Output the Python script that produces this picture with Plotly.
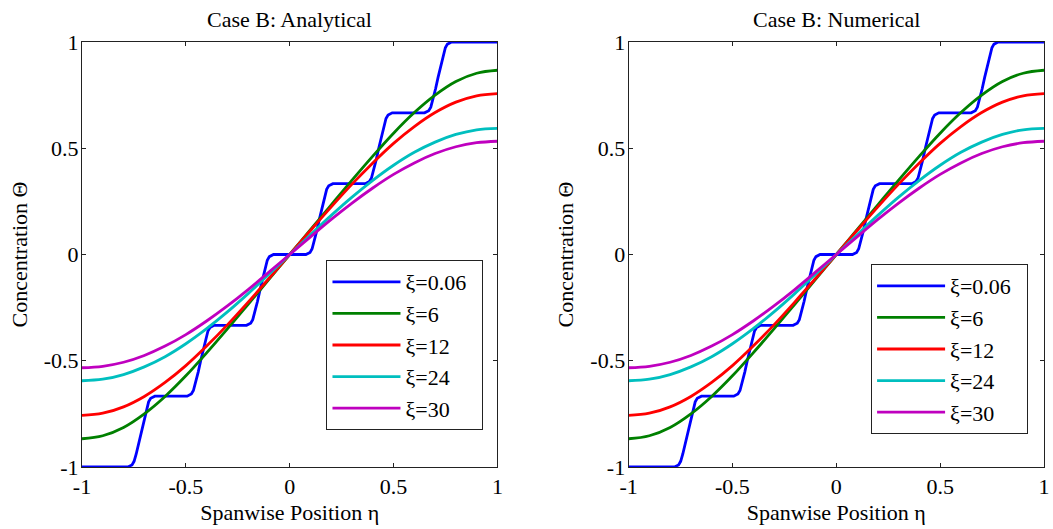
import plotly.graph_objects as go

# ---------------- data ----------------
eta = [-1.0, -0.9, -0.8, -0.7, -0.6, -0.5, -0.4, -0.3, -0.2, -0.1, 0.0,
       0.1, 0.2, 0.3, 0.4, 0.5, 0.6, 0.7, 0.8, 0.9, 1.0]

theta_xi6 = [-0.867, -0.853, -0.814, -0.750, -0.668, -0.571, -0.463, -0.350, -0.234, -0.117, 0.0,
             0.117, 0.234, 0.350, 0.463, 0.571, 0.668, 0.750, 0.814, 0.853, 0.867]
theta_xi12 = [-0.757, -0.747, -0.717, -0.668, -0.602, -0.523, -0.431, -0.331, -0.224, -0.113, 0.0,
              0.113, 0.224, 0.331, 0.431, 0.523, 0.602, 0.668, 0.717, 0.747, 0.757]
theta_xi24 = [-0.594, -0.587, -0.565, -0.529, -0.481, -0.420, -0.349, -0.270, -0.184, -0.093, 0.0,
              0.093, 0.184, 0.270, 0.349, 0.420, 0.481, 0.529, 0.565, 0.587, 0.594]
theta_xi30 = [-0.533, -0.526, -0.507, -0.475, -0.431, -0.377, -0.313, -0.242, -0.165, -0.083, 0.0,
              0.083, 0.165, 0.242, 0.313, 0.377, 0.431, 0.475, 0.507, 0.526, 0.533]

# staircase curve (xi = 0.06)
eta_xi006 = [-1.0,
             -0.7793, -0.7593, -0.7493, -0.7393, -0.7263, -0.7143, -0.7023, -0.6893, -0.6793, -0.6693, -0.6493,
             -0.4936, -0.4736, -0.4636, -0.4536, -0.4406, -0.4286, -0.4166, -0.4036, -0.3936, -0.3836, -0.3636,
             -0.2079, -0.1879, -0.1779, -0.1679, -0.1549, -0.1429, -0.1309, -0.1179, -0.1079, -0.0979, -0.0779,
             0.0779, 0.0979, 0.1079, 0.1179, 0.1309, 0.1429, 0.1549, 0.1679, 0.1779, 0.1879, 0.2079,
             0.3636, 0.3836, 0.3936, 0.4036, 0.4166, 0.4286, 0.4406, 0.4536, 0.4636, 0.4736, 0.4936,
             0.6493, 0.6693, 0.6793, 0.6893, 0.7023, 0.7143, 0.7263, 0.7393, 0.7493, 0.7593, 0.7793,
             1.0]
theta_xi006 = [-1.0,
               -1.0, -0.99, -0.9733, -0.94, -0.8867, -0.8333, -0.78, -0.7267, -0.6933, -0.6767, -0.6667,
               -0.6667, -0.6567, -0.64, -0.6067, -0.5533, -0.5, -0.4467, -0.3933, -0.36, -0.3433, -0.3333,
               -0.3333, -0.3233, -0.3067, -0.2733, -0.22, -0.1667, -0.1133, -0.06, -0.0267, -0.01, 0.0,
               0.0, 0.01, 0.0267, 0.06, 0.1133, 0.1667, 0.22, 0.2733, 0.3067, 0.3233, 0.3333,
               0.3333, 0.3433, 0.36, 0.3933, 0.4467, 0.5, 0.5533, 0.6067, 0.64, 0.6567, 0.6667,
               0.6667, 0.6767, 0.6933, 0.7267, 0.78, 0.8333, 0.8867, 0.94, 0.9733, 0.99, 1.0,
               1.0]

series_names = ["ξ=0.06", "ξ=6", "ξ=12", "ξ=24", "ξ=30"]
series_colors = ["#0000FF", "#008000", "#FF0000", "#00BFBF", "#BF00BF"]
panel_titles = ["Case B: Analytical", "Case B: Numerical"]
tick_vals = [-1, -0.5, 0, 0.5, 1]
tick_text = ["-1", "-0.5", "0", "0.5", "1"]
x_label = "Spanwise Position η"
y_label = "Concentration Θ"

# ---------------- figure ----------------
FONT = "Liberation Serif, Times New Roman, serif"
W, H = 1053, 529
ML, MR, MT, MB = 82, 3, 42, 62
pw = W - ML - MR
ph = H - MT - MB
dom1 = [0.0, 418 / pw]
dom2 = [1 - 418 / pw, 1.0]
PAD = "\u00a0\u00a0"  # right padding inside the legend box

fig = go.Figure()

curves = [(eta_xi006, theta_xi006, "linear"),
          (eta, theta_xi6, "spline"),
          (eta, theta_xi12, "spline"),
          (eta, theta_xi24, "spline"),
          (eta, theta_xi30, "spline")]

for p in range(2):
    xa = "x" if p == 0 else "x2"
    ya = "y" if p == 0 else "y2"
    lg = "legend" if p == 0 else "legend2"
    for (xs, ys, shape), name, col in zip(curves, series_names, series_colors):
        fig.add_trace(go.Scatter(
            x=xs, y=ys, mode="lines", name=name + PAD,
            line=dict(color=col, width=2.8, shape=shape),
            xaxis=xa, yaxis=ya, legend=lg, showlegend=True))

axis_common = dict(range=[-1, 1], tickvals=tick_vals, ticktext=tick_text,
                   showgrid=False, zeroline=False, showline=True, mirror="ticks",
                   linecolor="#222222", linewidth=1, ticks="inside", ticklen=4,
                   tickcolor="#222222", tickwidth=1,
                   tickfont=dict(family=FONT, size=22, color="black"))

xcommon = dict(axis_common,
               title=dict(text=x_label, font=dict(family=FONT, size=22), standoff=6))
ycommon = dict(axis_common, ticklabelstandoff=-2,
               title=dict(text=y_label, font=dict(family=FONT, size=22), standoff=10))

leg_common = dict(xanchor="left", yanchor="top", bgcolor="white",
                  bordercolor="#222222", borderwidth=1,
                  font=dict(family=FONT, size=22, color="black"),
                  itemwidth=68, traceorder="normal")

fig.update_layout(
    width=W, height=H,
    margin=dict(l=ML, r=MR, t=MT, b=MB),
    paper_bgcolor="white", plot_bgcolor="white",
    font=dict(family=FONT, size=22, color="black"),
    xaxis=dict(domain=dom1, anchor="y", **xcommon),
    yaxis=dict(domain=[0, 1], anchor="x", **ycommon),
    xaxis2=dict(domain=dom2, anchor="y2", **xcommon),
    yaxis2=dict(domain=[0, 1], anchor="x2", **ycommon),
    legend=dict(x=(328 - ML) / pw, y=(MT + ph - 260) / ph, **leg_common),
    legend2=dict(x=(876 - ML) / pw, y=(MT + ph - 264) / ph, **leg_common),
    annotations=[
        dict(text=panel_titles[0], x=(dom1[0] + dom1[1]) / 2, y=1, xref="paper", yref="paper",
             xanchor="center", yanchor="bottom", yshift=8, showarrow=False,
             font=dict(family=FONT, size=22, color="black")),
        dict(text=panel_titles[1], x=(dom2[0] + dom2[1]) / 2, y=1, xref="paper", yref="paper",
             xanchor="center", yanchor="bottom", yshift=8, showarrow=False,
             font=dict(family=FONT, size=22, color="black")),
    ],
)

fig.write_html("out.html", config={"displayModeBar": False},
               post_script="document.body.style.margin='0';document.body.style.overflow='hidden';")
